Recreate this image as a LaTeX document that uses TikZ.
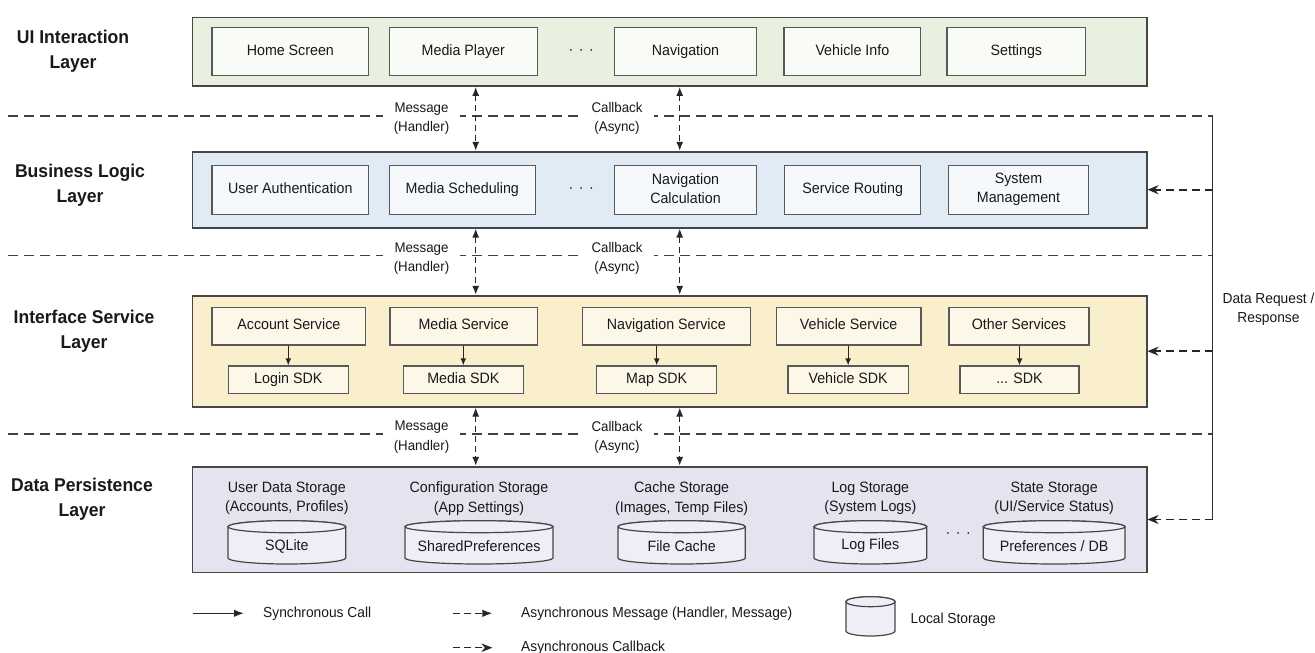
\documentclass[tikz,border=0pt]{standalone}
\usepackage{fontspec}
\setmainfont{Liberation Sans}[FakeStretch=0.95]
\usetikzlibrary{arrows.meta}

\definecolor{uifill}{RGB}{232,241,224}
\definecolor{uicomp}{RGB}{249,251,247}
\definecolor{bizfill}{RGB}{225,235,246}
\definecolor{bizcomp}{RGB}{246,249,252}
\definecolor{ifcfill}{RGB}{249,239,205}
\definecolor{ifccomp}{RGB}{252,247,230}
\definecolor{datfill}{RGB}{231,226,240}
\definecolor{datcyl}{RGB}{240,237,246}
\definecolor{ink}{RGB}{25,25,25}
\definecolor{edge}{RGB}{70,70,70}

% invisible strut that centres capitals in a box
\newcommand\capstrut{\rule[-3.7pt]{0pt}{14.4pt}}

% rectangle node given by its corners: style, name, x1, y1, x2, y2, text
\newcommand\mkbox[7]{%
  \pgfmathsetmacro\bxc{(#3+#5)/2}\pgfmathsetmacro\byc{(#4+#6)/2}%
  \pgfmathsetmacro\bxw{#5-#3}\pgfmathsetmacro\byh{#6-#4}%
  \node[#1, minimum width=\bxw pt, minimum height=\byh pt] (#2) at (\bxc,\byc) {#7};}

% storage cylinder: name, x1, x2, top-ellipse y, bottom-ellipse y, y radius, text y, text
\newcommand\dbcyl[8]{%
  \pgfmathsetmacro\cyc{(#2+#3)/2}\pgfmathsetmacro\cyr{(#3-#2)/2}%
  \filldraw[cylline] (#2,#4) -- (#2,#5)
    arc[start angle=180,end angle=360,x radius=\cyr pt,y radius=#6pt] -- (#3,#4)
    arc[start angle=0,end angle=180,x radius=\cyr pt,y radius=#6pt] -- cycle;
  \draw[cylline] (\cyc,#4) ellipse[x radius=\cyr pt,y radius=#6pt];
  \node[cyltext] (#1) at (\cyc,#7) {#8};}

\tikzset{
  every node/.style={text=ink, font=\fontsize{15}{19}\selectfont},
  layerbox/.style={draw=edge, line width=1.6pt, inner sep=0pt},
  comp/.style={draw=edge!90, line width=1.2pt, inner sep=0pt, align=center,
    execute at begin node=\capstrut, execute at end node=\capstrut},
  uibox/.style={comp, fill=uicomp},
  bizbox/.style={comp, fill=bizcomp},
  ifcbox/.style={comp, fill=ifccomp},
  layertitle/.style={align=center, font=\fontsize{18.5}{25}\selectfont\bfseries},
  chanlabel/.style={align=center, font=\fontsize{14}{19.3}\selectfont, fill=white, inner xsep=11pt, inner ysep=1pt},
  plainlabel/.style={align=center, font=\fontsize{14.5}{19}\selectfont},
  storetitle/.style={align=center, font=\fontsize{15}{19.4}\selectfont},
  dotsnode/.style={inner sep=0pt, font=\fontsize{15}{17}\selectfont},
  legendtext/.style={anchor=west, inner sep=0pt, font=\fontsize{14.5}{17}\selectfont},
  cylline/.style={draw=edge, line width=1.2pt, fill=datcyl},
  cyltext/.style={inner sep=0pt},
  sepline/.style={draw=black!75, line width=1.6pt, dash pattern=on 10pt off 6pt},
  rail/.style={draw=black!80, line width=1.5pt},
  async/.style={draw=black!85, line width=1.5pt, dash pattern=on 6pt off 4pt,
    {Latex[length=9pt,width=7pt]}-{Latex[length=9pt,width=7pt]}},
  request/.style={draw=black!85, line width=1.6pt, dash pattern=on 8pt off 5pt,
    -{Stealth[length=11pt,width=9pt]}},
  sync/.style={draw=black!85, line width=1.2pt, -{Latex[length=7pt,width=6pt]}},
  synclegend/.style={draw=black!85, line width=1.5pt, -{Latex[length=10pt,width=7.5pt]}},
  msglegend/.style={draw=black!85, line width=1.5pt, dash pattern=on 7pt off 4pt, -{Latex[length=10pt,width=7.5pt]}},
  cblegend/.style={draw=black!85, line width=1.5pt, dash pattern=on 7pt off 4pt, -{Stealth[length=11pt,width=8.5pt]}},
}

\begin{document}
\begin{tikzpicture}[x=1pt,y=-1pt]
\useasboundingbox[fill=white] (0,0) rectangle (1315,653);

% ---- layer containers
\mkbox{layerbox, fill=uifill}{ui}{192.3}{17.3}{1146.7}{86}{}
\mkbox{layerbox, fill=bizfill}{biz}{192.3}{151.7}{1146.7}{227.7}{}
\mkbox{layerbox, fill=ifcfill}{ifc}{192.3}{295.7}{1146.7}{406.7}{}
\mkbox{layerbox, fill=datfill}{dat}{192.3}{466.7}{1146.7}{572.3}{}

% ---- layer titles
\node[layertitle] (tui)  at (73,51.5)  {UI Interaction\\Layer};
\node[layertitle] (tbiz) at (80,185)   {Business Logic\\Layer};
\node[layertitle] (tifc) at (84,331.5) {Interface Service\\Layer};
\node[layertitle] (tdat) at (82,499)   {Data Persistence\\Layer};

% ---- UI interaction layer
\mkbox{uibox}{home}{212}{27.7}{368.7}{75.7}{Home Screen}
\mkbox{uibox}{player}{389.3}{27.7}{537.3}{75.7}{Media Player}
\node[dotsnode] (uidots) at (581.3,51.7) {·\hspace{5.5pt}·\hspace{5.5pt}·};
\mkbox{uibox}{nav}{614.3}{27.7}{756.7}{75.7}{Navigation}
\mkbox{uibox}{vinfo}{784}{27.7}{920.7}{75.7}{Vehicle Info}
\mkbox{uibox}{settings}{947}{27.7}{1085.7}{75.7}{Settings}

% ---- business logic layer
\mkbox{bizbox}{auth}{212}{165.7}{368.7}{214.3}{User Authentication}
\mkbox{bizbox}{sched}{389.3}{165.7}{535.3}{214.3}{Media Scheduling}
\node[dotsnode] (bizdots) at (581.3,190) {·\hspace{5.5pt}·\hspace{5.5pt}·};
\mkbox{bizbox}{navcalc}{614.3}{165.7}{756.7}{214.3}{Navigation\\Calculation}
\mkbox{bizbox}{routing}{784.7}{165.7}{920.7}{214.3}{Service Routing}
\mkbox{bizbox}{sysmgmt}{948.7}{165.7}{1088.3}{214.3}{System\\Management}

% ---- interface service layer
\mkbox{ifcbox}{acct}{212}{307.7}{365.7}{345}{Account Service}
\mkbox{ifcbox}{msvc}{390}{307.7}{537.3}{345}{Media Service}
\mkbox{ifcbox}{nsvc}{582.3}{307.7}{750.3}{345}{Navigation Service}
\mkbox{ifcbox}{vsvc}{776.3}{307.7}{921}{345}{Vehicle Service}
\mkbox{ifcbox}{osvc}{949}{307.7}{1089}{345}{Other Services}

\mkbox{ifcbox}{lsdk}{228.3}{366}{348.3}{393.3}{Login SDK}
\mkbox{ifcbox}{msdk}{403.3}{366}{523.3}{393.3}{Media SDK}
\mkbox{ifcbox}{mapsdk}{596.7}{366}{716.7}{393.3}{Map SDK}
\mkbox{ifcbox}{vsdk}{788}{366}{908.3}{393.3}{Vehicle SDK}
\mkbox{ifcbox}{osdk}{960}{366}{1079}{393.3}{... SDK}

\draw[sync] (acct.south -| lsdk.north) -- (lsdk.north);
\draw[sync] (msvc.south -| msdk.north) -- (msdk.north);
\draw[sync] (nsvc.south -| mapsdk.north) -- (mapsdk.north);
\draw[sync] (vsvc.south -| vsdk.north) -- (vsdk.north);
\draw[sync] (osvc.south -| osdk.north) -- (osdk.north);

% ---- data persistence layer
\node[storetitle] (st1) at (286.85,498.5) {User Data Storage\\(Accounts, Profiles)};
\node[storetitle] (st2) at (479,498.5)    {Configuration Storage\\(App Settings)};
\node[storetitle] (st3) at (681.65,498.5) {Cache Storage\\(Images, Temp Files)};
\node[storetitle] (st4) at (870.35,498.5) {Log Storage\\(System Logs)};
\node[storetitle] (st5) at (1054.15,498.5) {State Storage\\(UI/Service Status)};

\dbcyl{sqlite}{228}{345.7}{526.7}{558}{6}{546}{SQLite}
\dbcyl{prefs}{405}{553}{526.7}{558}{6}{546}{SharedPreferences}
\dbcyl{fcache}{618}{745.3}{526.7}{558}{6}{546}{File Cache}
\dbcyl{logs}{814}{926.7}{526.7}{558}{6}{546}{Log Files}
\dbcyl{statedb}{983.3}{1125}{526.7}{558}{6}{546}{Preferences / DB}
\node[dotsnode] (datdots) at (958.3,535) {·\hspace{5.5pt}·\hspace{5.5pt}·};

% ---- layer boundaries and the data request rail
\coordinate (l1) at (8.3,115.7);  \coordinate (r1) at (1212.5,115.7);
\coordinate (l2) at (8.3,255.3);  \coordinate (r2) at (1212.5,255.3);
\coordinate (l3) at (8.3,434.2);  \coordinate (r3) at (1212.5,434.2);
\coordinate (rb) at (r1 |- dat.east);

\draw[sepline] (l1) -- (r1);
\draw[sepline] (l2) -- (r2);
\draw[sepline] (l3) -- (r3);
\draw[rail] (r1) -- (rb);

\draw[request] (r1 |- biz.east) -- (biz.east);
\draw[request] (r1 |- ifc.east) -- (ifc.east);
\draw[request] (rb) -- (dat.east);

\node[plainlabel] (dreq) at (1268.5,308.8) {Data Request /\\Response};

% ---- channel labels
\node[chanlabel] (m1) at (421.5,118.7) {Message\\(Handler)};
\node[chanlabel] (c1) at (617,118.7)   {Callback\\(Async)};
\node[chanlabel] (m2) at (421.5,258.3) {Message\\(Handler)};
\node[chanlabel] (c2) at (617,258.3)   {Callback\\(Async)};
\node[chanlabel] (m3) at (421.5,437.2) {Message\\(Handler)};
\node[chanlabel] (c3) at (617,437.2)   {Callback\\(Async)};

% ---- inter-layer asynchronous channels
\coordinate (mx) at (475.7,0);
\coordinate (cx) at (679.7,0);
\draw[async] (ui.south -| mx)  -- (biz.north -| mx);
\draw[async] (ui.south -| cx)  -- (biz.north -| cx);
\draw[async] (biz.south -| mx) -- (ifc.north -| mx);
\draw[async] (biz.south -| cx) -- (ifc.north -| cx);
\draw[async] (ifc.south -| mx) -- (dat.north -| mx);
\draw[async] (ifc.south -| cx) -- (dat.north -| cx);

% ---- legend
\coordinate (ls1) at (192.8,613.3); \coordinate (le1) at (244,613.3);
\draw[synclegend] (ls1) -- (le1);
\node[legendtext] (lg1) at (263,613.3) {Synchronous Call};

\coordinate (ls2) at (453.3,613.3); \coordinate (le2) at (492.4,613.3);
\draw[msglegend] (ls2) -- (le2);
\node[legendtext] (lg2) at (521,613.3) {Asynchronous Message (Handler, Message)};

\coordinate (ls3) at (453.3,647.7); \coordinate (le3) at (492.4,647.7);
\draw[cblegend] (ls3) -- (le3);
\node[legendtext] (lg3) at (521,647.7) {Asynchronous Callback};

\dbcyl{lcyl}{846}{895}{601.7}{631}{5}{616}{}
\node[legendtext] (lg4) at (910.5,619.3) {Local Storage};
\end{tikzpicture}
\end{document}
